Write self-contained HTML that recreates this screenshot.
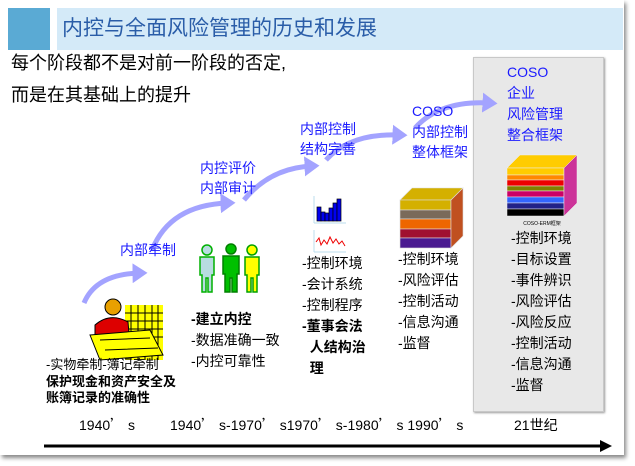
<!DOCTYPE html>
<html><head><meta charset="utf-8">
<style>
html,body{margin:0;padding:0;background:#fff;}
body{width:635px;height:466px;position:relative;overflow:hidden;font-family:"Liberation Sans","Noto Sans CJK SC",sans-serif;}
.a{position:absolute;white-space:nowrap;}
.b{color:#1a1aff;font-size:14px;line-height:21px;}
.t{font-size:14px;line-height:21px;color:#000;}
.q{font-family:"Noto Sans CJK SC",sans-serif;}
</style></head><body>
<div class="a" style="left:0;top:0;width:624px;height:455px;background:#fff;box-shadow:2px 3px 4px #888;"></div>
<div class="a" style="left:8px;top:8px;width:42px;height:42px;background:#5aaad4;"></div>
<div class="a" style="left:57px;top:8px;width:566px;height:42px;background:#d4eaf8;"></div>
<div class="a" style="left:62px;top:16px;font-size:21px;line-height:26px;color:#2a5da8;">内控与全面风险管理的历史和发展</div>
<div class="a" style="left:11px;top:51px;font-size:18px;line-height:24px;">每个阶段都不是对前一阶段的否定,</div>
<div class="a" style="left:11px;top:83px;font-size:18px;line-height:24px;">而是在其基础上的提升</div>

<div class="a" style="left:473px;top:57px;width:129px;height:353px;background:#e8e8e8;border:1px solid #c8c8c8;box-shadow:1px 1px 2px #999;"></div>

<svg class="a" style="left:0;top:0" width="635" height="466">
<defs><marker id="h" markerWidth="4" markerHeight="4" refX="1.5" refY="2" orient="auto" markerUnits="strokeWidth"><path d="M0,0 L3,2 L0,4 Z" fill="#a3a3ff"/></marker></defs>
<g fill="none" stroke="#a3a3ff" stroke-width="5">
<path d="M84,303 Q96,274 140,273" marker-end="url(#h)"/>
<path d="M152,250 Q170,205 228,203" marker-end="url(#h)"/>
<path d="M244,200 Q270,168 312,166" marker-end="url(#h)"/>
<path d="M326,160 Q350,133 400,135" marker-end="url(#h)"/>
<path d="M415,128 Q440,100 490,103" marker-end="url(#h)"/>
</g>
<line x1="44" y1="446" x2="602" y2="446" stroke="#000" stroke-width="3"/>
<path d="M600,440 L612,446 L600,452 Z" fill="#000"/>
<g>
<rect x="125" y="305" width="38" height="55" fill="#ffff00"/>
<g stroke="#000" stroke-width="1">
<line x1="131" y1="305" x2="131" y2="360"/><line x1="138" y1="305" x2="138" y2="360"/><line x1="145" y1="305" x2="145" y2="360"/><line x1="152" y1="305" x2="152" y2="360"/><line x1="158" y1="305" x2="158" y2="360"/>
<line x1="125" y1="313" x2="163" y2="313"/><line x1="125" y1="321" x2="163" y2="321"/><line x1="125" y1="329" x2="163" y2="329"/><line x1="125" y1="337" x2="163" y2="337"/>
</g>
<circle cx="113" cy="307" r="8" fill="#e8a000" stroke="#000"/>
<path d="M95,325 Q110,312 128,322 L130,345 L95,345 Z" fill="#dd0000" stroke="#000"/>
<path d="M90,335 L150,330 L163,355 L100,360 Z" fill="#ffff00" stroke="#000"/>
<path d="M100,340 L150,338 M105,350 L158,348" stroke="#000"/>
</g>
<g stroke-width="1.5">
<g fill="#b8dce0" stroke="#00b000"><circle cx="207" cy="250" r="5"/><path d="M200,257 h14 v18 h-2 v17 h-4 v-14 h-2 v14 h-4 v-17 h-2 z"/></g>
<g fill="#00c000" stroke="#008000"><circle cx="231" cy="249" r="5"/><path d="M223,256 h16 v18 h-2 v18 h-5 v-14 h-2 v14 h-5 v-18 h-2 z"/></g>
<g fill="#ffff00" stroke="#00a000"><circle cx="252" cy="250" r="5"/><path d="M245,257 h14 v18 h-2 v17 h-4 v-14 h-2 v14 h-4 v-17 h-2 z"/></g>
</g>
<line x1="314" y1="196" x2="314" y2="223" stroke="#bde" stroke-width="1"/>
<line x1="314" y1="223" x2="346" y2="223" stroke="#bde" stroke-width="1"/>
<g fill="#0000ee" stroke="#000" stroke-width="0.7">
<rect x="317" y="207" width="4" height="14"/><rect x="321" y="212" width="4" height="9"/><rect x="325" y="213" width="4" height="8"/><rect x="329" y="208" width="4" height="13"/><rect x="333" y="203" width="4" height="18"/><rect x="337" y="199" width="4" height="22"/>
</g>
<line x1="314" y1="230" x2="314" y2="252" stroke="#bde"/>
<line x1="314" y1="252" x2="346" y2="252" stroke="#bde"/>
<polyline points="316,242 319,238 321,245 324,240 327,244 330,237 333,243 336,239 339,244 342,241 345,246" fill="none" stroke="#e00" stroke-width="1"/>
<g stroke="#ddd" stroke-width="0.6">
<path d="M400,200 L412,188 L463,188 L451,200 Z" fill="#d4b000"/>
<rect x="400" y="200" width="51" height="10" fill="#d4b000"/>
<rect x="400" y="210" width="51" height="9" fill="#7a6a5a"/>
<rect x="400" y="219" width="51" height="10" fill="#ee6600"/>
<rect x="400" y="229" width="51" height="9" fill="#a01030"/>
<rect x="400" y="238" width="51" height="10" fill="#4a1a90"/>
<path d="M451,200 L463,188 L463,236 L451,248 Z" fill="#c05020"/>
</g>
<g stroke="#eee" stroke-width="0.5">
<path d="M507,168 L520,155 L577,155 L564,168 Z" fill="#ffcc00"/>
<rect x="507" y="168" width="57" height="7" fill="#ffcc00"/>
<rect x="507" y="175" width="57" height="5" fill="#ff8800"/>
<rect x="507" y="180" width="57" height="6" fill="#ee0000"/>
<rect x="507" y="186" width="57" height="5" fill="#808000"/>
<rect x="507" y="191" width="57" height="6" fill="#cc0066"/>
<rect x="507" y="197" width="57" height="6" fill="#3366ff"/>
<rect x="507" y="203" width="57" height="6" fill="#222288"/>
<rect x="507" y="209" width="57" height="7" fill="#000"/>
<path d="M564,168 L577,155 L577,203 L564,216 Z" fill="#cc3399"/>
</g>
<text x="542" y="225" font-size="5" text-anchor="middle" font-family="Liberation Sans">COSO-ERM框架</text>
</svg>

<div class="a b" style="left:507px;top:62px;line-height:21px;">COSO<br>企业<br>风险管理<br>整合框架</div>
<div class="a b" style="left:412px;top:101px;line-height:20.5px;">COSO<br>内部控制<br>整体框架</div>
<div class="a b" style="left:300px;top:119px;line-height:20px;">内部控制<br>结构完善</div>
<div class="a b" style="left:200px;top:158px;line-height:20px;">内控评价<br>内部审计</div>
<div class="a b" style="left:120px;top:240px;">内部牵制</div>

<div class="a" style="left:46px;top:356px;font-size:13px;line-height:18px;">-实物牵制-簿记牵制</div>
<div class="a" style="left:46px;top:374px;font-size:13px;line-height:16px;font-weight:bold;">保护现金和资产安全及<br>账簿记录的准确性</div>

<div class="a t" style="left:191px;top:309px;"><b>-建立内控</b><br>-数据准确一致<br>-内控可靠性</div>
<div class="a t" style="left:302px;top:253px;">-控制环境<br>-会计系统<br>-控制程序<br><b>-董事会法<br>&nbsp;&nbsp;人结构治<br>&nbsp;&nbsp;理</b></div>
<div class="a t" style="left:398px;top:249px;">-控制环境<br>-风险评估<br>-控制活动<br>-信息沟通<br>-监督</div>
<div class="a t" style="left:511px;top:228px;">-控制环境<br>-目标设置<br>-事件辨识<br>-风险评估<br>-风险反应<br>-控制活动<br>-信息沟通<br>-监督</div>

<div class="a" style="left:79px;top:415px;font-size:14px;">1940<span class="q">’</span> s</div>
<div class="a" style="left:170px;top:415px;font-size:14px;">1940<span class="q">’</span> s-1970<span class="q">’</span> s1970<span class="q">’</span> s-1980<span class="q">’</span> s 1990<span class="q">’</span> s</div>
<div class="a" style="left:514px;top:415px;font-size:14px;">21世纪</div>
</body></html>
